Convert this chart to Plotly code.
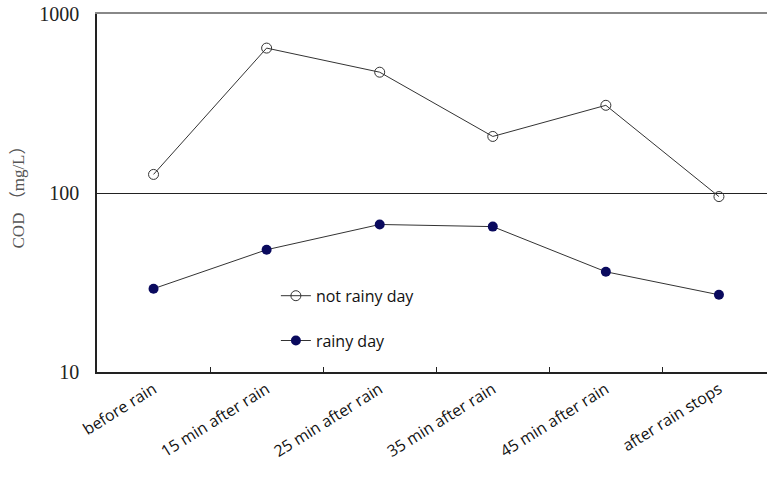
import plotly.graph_objects as go

categories = ["before rain", "15 min after rain", "25 min after rain",
              "35 min after rain", "45 min after rain", "after rain stops"]
not_rainy = [127, 645, 473, 207, 309, 95.5]
rainy = [29.2, 48.2, 66.7, 64.9, 36.3, 27.0]
y_ticks = [10, 100, 1000]
y_tick_labels = ["10", "100", "1000"]

fig = go.Figure()
fig.add_trace(go.Scatter(
    x=categories, y=not_rainy, name="not rainy day", mode="lines+markers",
    line=dict(color="#333333", width=1),
    marker=dict(symbol="circle-open", size=10, color="#333333", line=dict(width=1)),
    legendgroup="a"))
fig.add_trace(go.Scatter(
    x=categories, y=rainy, name="rainy day", mode="lines+markers",
    line=dict(color="#333333", width=1),
    marker=dict(symbol="circle", size=10, color="#0a0a5e"),
    legendgroup="b"))
# invisible helper trace so the top frame axis is drawn
fig.add_trace(go.Scatter(
    x=categories, y=rainy, mode="lines", xaxis="x2", opacity=0,
    showlegend=False, hoverinfo="skip"))

fig.update_layout(
    width=767, height=477,
    margin=dict(l=97, r=0, t=14, b=105, autoexpand=False),
    paper_bgcolor="white", plot_bgcolor="white",
    showlegend=True,
    legend=dict(x=0.267, y=0.15, xanchor="left", yanchor="middle",
                font=dict(family="Open Sans", size=16, color="#111111"),
                bgcolor="rgba(0,0,0,0)", traceorder="grouped", tracegroupgap=21,
                itemwidth=30),
    xaxis=dict(
        type="category", range=[-0.5, 5.425], automargin=False,
        showline=True, linecolor="#222222", linewidth=1.5,
        ticks="inside", tickson="boundaries", ticklen=5, tickcolor="#222222",
        tickangle=-32, showgrid=False, ticklabeloverflow="allow",
        tickfont=dict(family="Open Sans", size=16, color="#111111"),
    ),
    xaxis2=dict(
        type="category", overlaying="x", side="top", range=[-0.5, 5.425],
        automargin=False, showline=True, linecolor="#888888", linewidth=1.5,
        showticklabels=False, ticks="", showgrid=False, zeroline=False,
    ),
    yaxis=dict(
        type="log", range=[1, 3], automargin=False,
        tickvals=y_ticks, ticktext=y_tick_labels, ticklabeloverflow="allow",
        showline=True, linecolor="#222222", linewidth=1.5,
        showgrid=True, gridcolor="#222222", gridwidth=1,
        ticks="", ticklabelstandoff=12,
        tickfont=dict(family="Liberation Serif", size=20, color="#222222"),
        title=dict(text="COD （mg/L）", standoff=10,
                   font=dict(family="Liberation Serif, Noto Sans CJK SC", size=17, color="#555555")),
        zeroline=False,
    ),
)

fig.write_html("out.html", config={"displayModeBar": False},
               post_script="document.body.style.margin='0';")
